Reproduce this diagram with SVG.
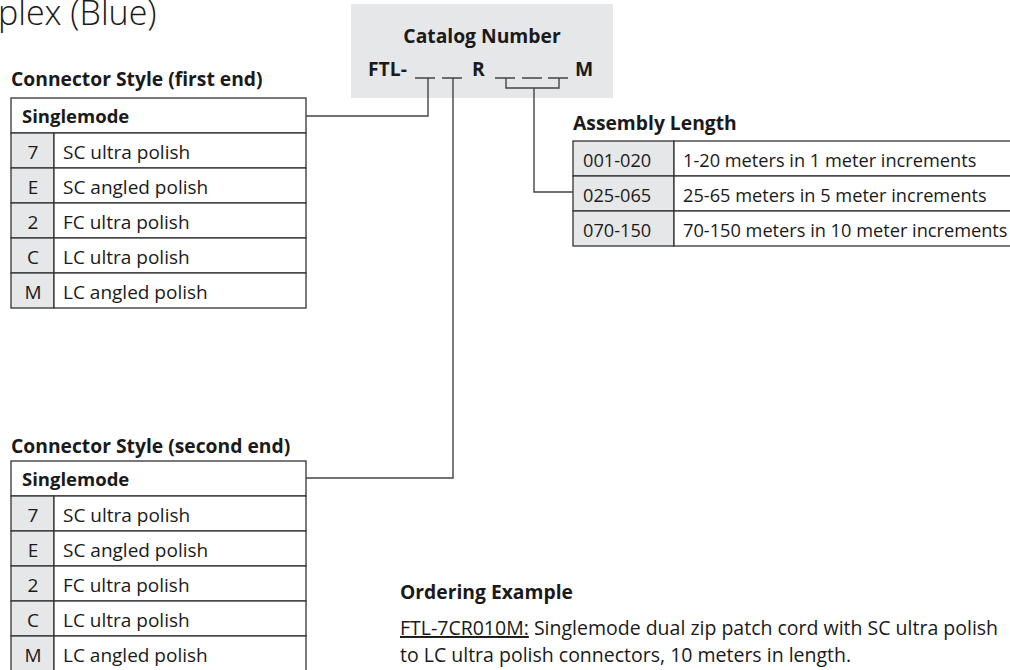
<svg xmlns="http://www.w3.org/2000/svg" width="1010" height="670" viewBox="0 0 1010 670">
<style>
text{font-family:"Open Sans","Liberation Sans",sans-serif;fill:#1a1a1a}
.h{font-weight:bold;font-size:19.3px}
.s{font-weight:bold;font-size:18.5px}
.t{font-size:19px}
.a{font-size:18.2px}
.c{font-size:19px;text-anchor:middle}
.o{font-size:19.5px}
.cell{fill:#fff;stroke:#333;stroke-width:1.3}
.code{fill:#e6e7e8;stroke:#333;stroke-width:1.3}
.ln{fill:none;stroke:#444;stroke-width:1.4}
</style>
<rect width="1010" height="670" fill="#fff"/>
<text x="-2" y="25" style="font-size:34px;font-weight:300">plex (Blue)</text>

<g id="catalog">
<rect x="351" y="4" width="262" height="94" fill="#e6e7e8"/>
<text x="482" y="43" class="h" text-anchor="middle">Catalog Number</text>
<text x="368" y="76" class="h">FTL-</text>
<text x="472" y="76" class="h">R</text>
<text x="575" y="76" class="h">M</text>
<path class="ln" d="M415,78H435M442,78H462M495,78H515M522,78H542M548,78H568"/>
</g>

<g id="first-end">
<text x="11" y="86" class="h">Connector Style (first end)</text>
<rect class="cell" x="11" y="98" width="295" height="35"/>
<text x="22" y="123" class="s">Singlemode</text>
<rect class="code" x="11" y="133" width="43" height="35"/><rect class="cell" x="54" y="133" width="252" height="35"/>
<rect class="code" x="11" y="168" width="43" height="35"/><rect class="cell" x="54" y="168" width="252" height="35"/>
<rect class="code" x="11" y="203" width="43" height="35"/><rect class="cell" x="54" y="203" width="252" height="35"/>
<rect class="code" x="11" y="238" width="43" height="35"/><rect class="cell" x="54" y="238" width="252" height="35"/>
<rect class="code" x="11" y="273" width="43" height="35"/><rect class="cell" x="54" y="273" width="252" height="35"/>
<text x="33" y="159" class="c">7</text><text x="63" y="159" class="t">SC ultra polish</text>
<text x="33" y="194" class="c">E</text><text x="63" y="194" class="t">SC angled polish</text>
<text x="33" y="229" class="c">2</text><text x="63" y="229" class="t">FC ultra polish</text>
<text x="33" y="264" class="c">C</text><text x="63" y="264" class="t">LC ultra polish</text>
<text x="33" y="299" class="c">M</text><text x="63" y="299" class="t">LC angled polish</text>
</g>

<g id="second-end">
<text x="11" y="453" class="h">Connector Style (second end)</text>
<rect class="cell" x="11" y="461" width="295" height="35"/>
<text x="22" y="486" class="s">Singlemode</text>
<rect class="code" x="11" y="496" width="43" height="35"/><rect class="cell" x="54" y="496" width="252" height="35"/>
<rect class="code" x="11" y="531" width="43" height="35"/><rect class="cell" x="54" y="531" width="252" height="35"/>
<rect class="code" x="11" y="566" width="43" height="35"/><rect class="cell" x="54" y="566" width="252" height="35"/>
<rect class="code" x="11" y="601" width="43" height="35"/><rect class="cell" x="54" y="601" width="252" height="35"/>
<rect class="code" x="11" y="636" width="43" height="35"/><rect class="cell" x="54" y="636" width="252" height="35"/>
<text x="33" y="522" class="c">7</text><text x="63" y="522" class="t">SC ultra polish</text>
<text x="33" y="557" class="c">E</text><text x="63" y="557" class="t">SC angled polish</text>
<text x="33" y="592" class="c">2</text><text x="63" y="592" class="t">FC ultra polish</text>
<text x="33" y="627" class="c">C</text><text x="63" y="627" class="t">LC ultra polish</text>
<text x="33" y="662" class="c">M</text><text x="63" y="662" class="t">LC angled polish</text>
</g>

<g id="assembly-length">
<text x="573" y="130" class="h">Assembly Length</text>
<rect class="code" x="573" y="141" width="101" height="35"/><rect class="cell" x="674" y="141" width="340" height="35"/>
<rect class="code" x="573" y="176" width="101" height="35"/><rect class="cell" x="674" y="176" width="340" height="35"/>
<rect class="code" x="573" y="211" width="101" height="35"/><rect class="cell" x="674" y="211" width="340" height="35"/>
<text x="583" y="167" class="a">001-020</text><text x="683" y="167" class="a">1-20 meters in 1 meter increments</text>
<text x="583" y="202" class="a">025-065</text><text x="683" y="202" class="a">25-65 meters in 5 meter increments</text>
<text x="583" y="237" class="a">070-150</text><text x="683" y="237" class="a">70-150 meters in 10 meter increments</text>
</g>

<g id="ordering-example">
<text x="400" y="599" class="h">Ordering Example</text>
<text x="400" y="635" class="o"><tspan text-decoration="underline">FTL-7CR010M:</tspan> Singlemode dual zip patch cord with SC ultra polish</text>
<text x="400" y="662" class="o">to LC ultra polish connectors, 10 meters in length.</text>
</g>

<g id="connectors">
<path class="ln" d="M306,116H428V78"/>
<path class="ln" d="M306,478H453V78"/>
<path class="ln" d="M506,78V88H559V78M534,88V192H573"/>
</g>
</svg>
